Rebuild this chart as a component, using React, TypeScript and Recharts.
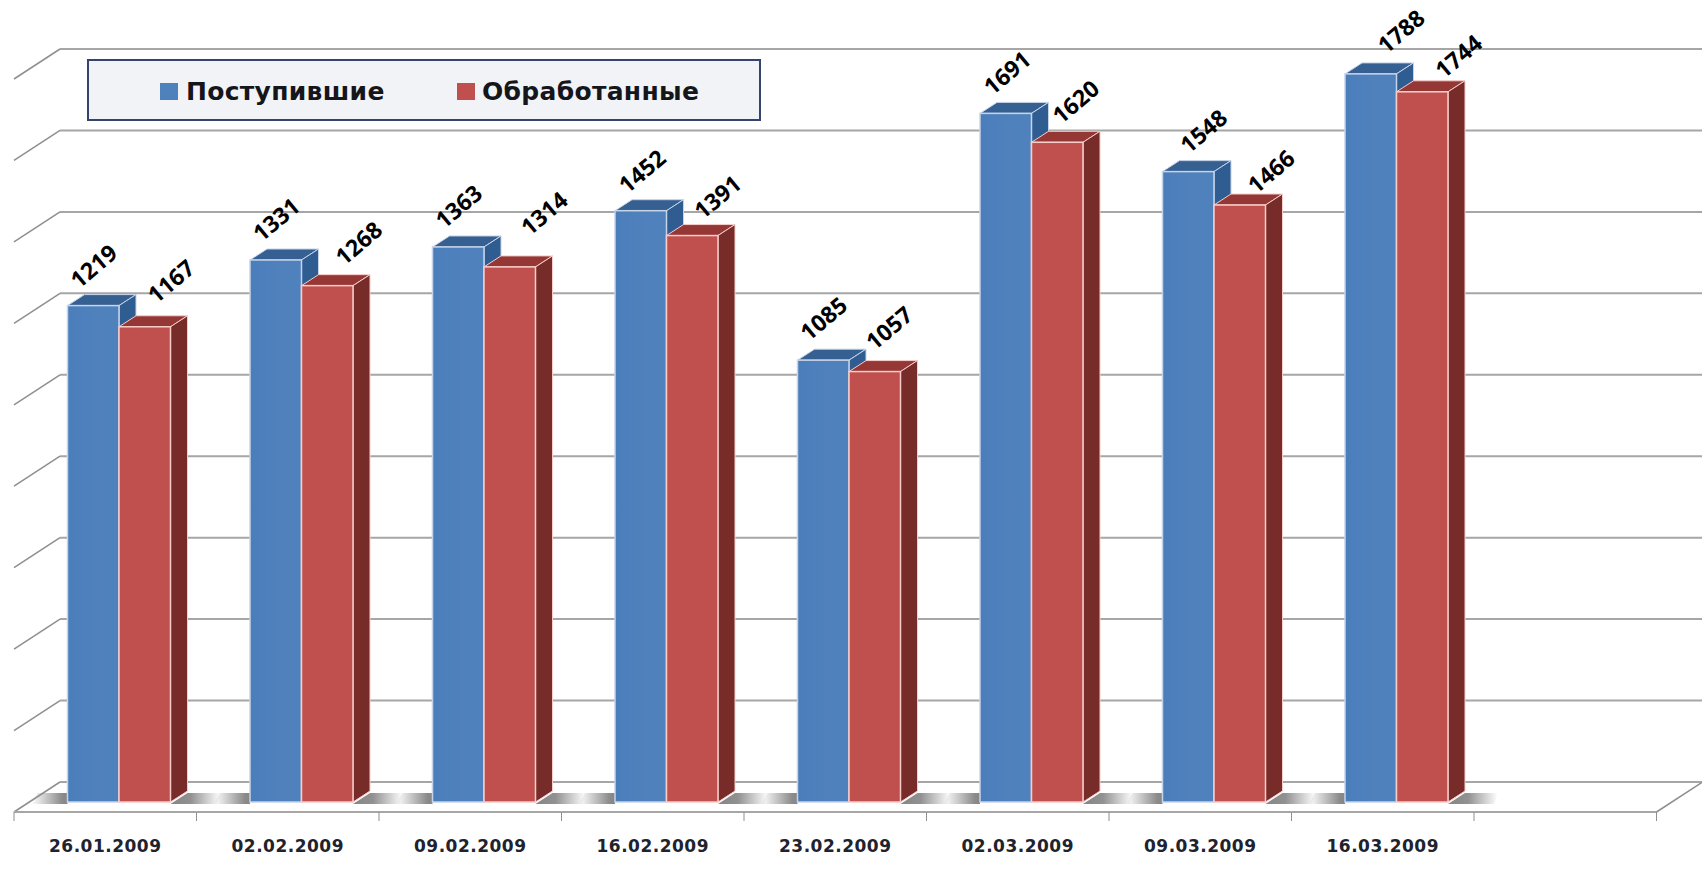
import { BarChart, Bar, XAxis, YAxis, CartesianGrid, LabelList, Legend } from "recharts";

const categories = [
  "26.01.2009",
  "02.02.2009",
  "09.02.2009",
  "16.02.2009",
  "23.02.2009",
  "02.03.2009",
  "09.03.2009",
  "16.03.2009",
  "",
];
const received = [1219, 1331, 1363, 1452, 1085, 1691, 1548, 1788, null];
const processed = [1167, 1268, 1314, 1391, 1057, 1620, 1466, 1744, null];
const yTicks = [0, 200, 400, 600, 800, 1000, 1200, 1400, 1600, 1800];

// labels in the picture are pushed around by hand, so each one gets its own nudge
const receivedNudge = [[0, -40], [0, -41], [0, -41], [1, -40], [0, -42], [1, -41], [15, -41], [30, -43]];
const processedNudge = [[26, -46], [31, -43], [34, -54], [25, -39], [14, -44], [18, -41], [31, -34], [36, -36]];

const tableData = categories.map((date, i) => ({
  date,
  received: received[i],
  processed: processed[i],
}));

const WIDTH = 1702;
const HEIGHT = 896;
const PLOT_LEFT = 27.5;
const PLOT_RIGHT = 1670;
const PLOT_TOP = 69;
const PLOT_BOTTOM = 802;
const BAND = (PLOT_RIGHT - PLOT_LEFT) / categories.length;
const FRONT_X = -13.5; // bar plane to front edge of the floor
const FRONT_Y = 10;
const BACK_X = 32.5; // bar plane to the back wall
const BACK_Y = -20;
const BAR_DX = 17;
const BAR_DY = -11;
const GRID = "#a6a6a6";
const TEXT_FONT = "'DejaVu Sans', sans-serif";

function WallLine({ x1, x2, y1 }: any) {
  const backLeft = x1 + BACK_X;
  const backY = y1 + BACK_Y;
  return (
    <g>
      <line x1={backLeft} y1={backY} x2={x2 + BACK_X} y2={backY} stroke={GRID} strokeWidth={2} />
      <line x1={backLeft} y1={backY} x2={x1 + FRONT_X} y2={y1 + FRONT_Y} stroke="#8f8f8f" strokeWidth={1.5} />
    </g>
  );
}

function FloorTick({ x, payload, index }: any) {
  const left = x + FRONT_X - BAND / 2;
  const right = x + FRONT_X + BAND / 2;
  const floorY = PLOT_BOTTOM + FRONT_Y;
  const isLast = index === categories.length - 1;
  return (
    <g>
      <line x1={left} y1={floorY} x2={right} y2={floorY} stroke={GRID} strokeWidth={2} />
      <line x1={left} y1={floorY} x2={left} y2={floorY + 9} stroke="#8f8f8f" strokeWidth={1} />
      {isLast && (
        <>
          <line x1={right} y1={floorY} x2={right} y2={floorY + 9} stroke="#8f8f8f" strokeWidth={1} />
          <line x1={right} y1={floorY} x2={right + BACK_X - FRONT_X} y2={PLOT_BOTTOM + BACK_Y} stroke="#8f8f8f" strokeWidth={1.5} />
        </>
      )}
      <text
        x={x + FRONT_X}
        y={floorY + 40}
        textAnchor="middle"
        fontFamily={TEXT_FONT}
        fontWeight={700}
        fontSize={17}
        letterSpacing={0.5}
        fill="#20222e">
        {payload.value}
      </text>
    </g>
  );
}

function Bar3D({ x, y, width, height, front, top, side, edge, shadow }: any) {
  if (!height || !Number.isFinite(height)) return null;
  const bottom = y + height;
  return (
    <g>
      {shadow === "left" && (
        <polygon
          points={`${x - 36},${bottom + 2} ${x - 30},${bottom - 9} ${x},${bottom - 9} ${x},${bottom + 2}`}
          fill="url(#shadowLeft)"
        />
      )}
      {shadow === "right" && (
        <polygon
          points={`${x + width},${bottom + 2} ${x + width + BAR_DX},${bottom - 9} ${x + width + 50},${bottom - 9} ${x + width + 46},${bottom + 2}`}
          fill="url(#shadowRight)"
        />
      )}
      <polygon
        points={`${x},${y} ${x + BAR_DX},${y + BAR_DY} ${x + width + BAR_DX},${y + BAR_DY} ${x + width},${y}`}
        fill={top}
        stroke={edge}
        strokeWidth={1}
      />
      <polygon
        points={`${x + width},${y} ${x + width + BAR_DX},${y + BAR_DY} ${x + width + BAR_DX},${bottom + BAR_DY} ${x + width},${bottom}`}
        fill={side}
        stroke={edge}
        strokeWidth={1}
      />
      <rect x={x} y={y} width={width} height={height} fill={front} stroke={edge} strokeWidth={1.5} />
    </g>
  );
}

function RotatedValue({ x, y, width, value, index, nudge }: any) {
  if (value == null) return null;
  const [dx, dy] = nudge[index];
  const cx = x + width / 2 + dx;
  const cy = y + dy;
  return (
    <text
      x={cx}
      y={cy}
      transform={`rotate(-40 ${cx} ${cy})`}
      textAnchor="middle"
      dominantBaseline="central"
      fontFamily="'Open Sans', sans-serif"
      fontWeight={700}
      fontSize={23}
      fill="#000">
      {value}
    </text>
  );
}

function LegendBox({ payload }: any) {
  return (
    <div
      style={{
        boxSizing: "border-box",
        width: 674,
        height: 62,
        background: "#f2f3f6",
        border: "2px solid #34446f",
        position: "relative",
      }}>
      {(payload ?? []).map((item: any, i: number) => (
        <div
          key={item.value}
          style={{
            position: "absolute",
            left: i === 0 ? 71 : 368,
            top: 21,
            display: "flex",
            alignItems: "center",
            height: 18,
            whiteSpace: "nowrap",
          }}>
          <span style={{ width: 18, height: 17, background: item.color, marginRight: i === 0 ? 8 : 7 }} />
          <span
            style={{
              fontFamily: TEXT_FONT,
              fontWeight: 700,
              fontSize: 25,
              letterSpacing: 0.3,
              color: "#15161c",
            }}>
            {item.value}
          </span>
        </div>
      ))}
    </div>
  );
}

export default function App() {
  return (
    <div style={{ position: "absolute", left: 0, top: 0, width: WIDTH, height: HEIGHT, background: "#fff" }}>
      <BarChart
        width={WIDTH}
        height={HEIGHT}
        data={tableData}
        margin={{ top: PLOT_TOP, left: PLOT_LEFT, right: WIDTH - PLOT_RIGHT, bottom: HEIGHT - PLOT_BOTTOM - 70 }}
        barSize={51.5}
        barGap={0}>
        <defs>
          <linearGradient id="shadowLeft" x1="0" y1="0" x2="1" y2="0">
            <stop offset="0" stopColor="#858585" stopOpacity={0} />
            <stop offset="0.85" stopColor="#858585" stopOpacity={0.95} />
            <stop offset="1" stopColor="#858585" stopOpacity={1} />
          </linearGradient>
          <linearGradient id="shadowRight" x1="0" y1="0" x2="1" y2="0">
            <stop offset="0" stopColor="#858585" stopOpacity={1} />
            <stop offset="0.4" stopColor="#858585" stopOpacity={0.9} />
            <stop offset="1" stopColor="#858585" stopOpacity={0} />
          </linearGradient>
          <linearGradient id="blueFront" x1="0" y1="0" x2="1" y2="0">
            <stop offset="0" stopColor="#4a7ebb" />
            <stop offset="0.6" stopColor="#5081bd" />
            <stop offset="1" stopColor="#4f81bd" />
          </linearGradient>
        </defs>
        <CartesianGrid vertical={false} horizontal={(props: any) => <WallLine key={props.key} {...props} />} />
        <XAxis
          dataKey="date"
          height={70}
          interval={0}
          axisLine={false}
          tickLine={false}
          tick={(props: any) => <FloorTick {...props} />}
        />
        <YAxis hide domain={[0, 1800]} ticks={yTicks} />
        <Legend
          layout="horizontal"
          verticalAlign="middle"
          align="center"
          itemSorter={null}
          wrapperStyle={{ left: 87, top: 59, width: 674, height: 62 }}
          content={(props: any) => <LegendBox {...props} />}
        />
        <Bar
          dataKey="received"
          name="Поступившие"
          fill="#4f81bd"
          isAnimationActive={false}
          shape={(props: any) => (
            <Bar3D {...props} front="url(#blueFront)" top="#376092" side="#2f5d91" edge="#c6d4e9" shadow="left" />
          )}>
          <LabelList dataKey="received" content={(props: any) => <RotatedValue {...props} nudge={receivedNudge} />} />
        </Bar>
        <Bar
          dataKey="processed"
          name="Обработанные"
          fill="#c0504d"
          isAnimationActive={false}
          shape={(props: any) => (
            <Bar3D {...props} front="#c0504d" top="#953735" side="#772c2a" edge="#f6cdca" shadow="right" />
          )}>
          <LabelList dataKey="processed" content={(props: any) => <RotatedValue {...props} nudge={processedNudge} />} />
        </Bar>
      </BarChart>
    </div>
  );
}
